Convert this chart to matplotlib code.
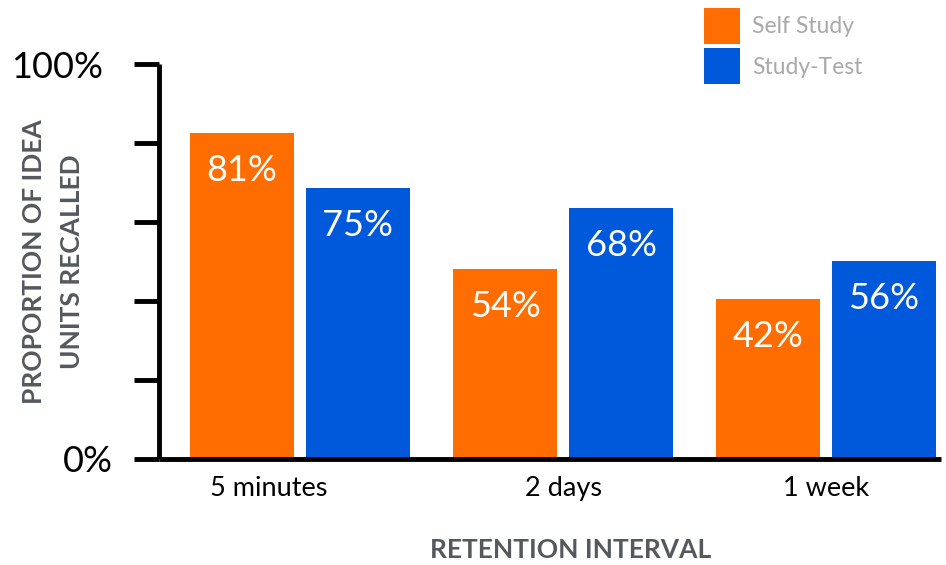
import numpy as np
import matplotlib
matplotlib.use("Agg")
import matplotlib.pyplot as plt
import matplotlib.transforms as mtransforms

plt.rcParams['font.family'] = ['Lato', 'DejaVu Sans']

# data
categories = ['5 minutes', '2 days', '1 week']
self_study = [82.5, 48.1, 40.5]
study_test = [68.6, 63.5, 50.1]
self_study_labels = ['81%', '54%', '42%']
study_test_labels = ['75%', '68%', '56%']
y_ticks = [0, 20, 40, 60, 80, 100]
y_tick_labels = ['0%', '', '', '', '', '100%']

ORANGE = '#FF6D00'
BLUE = '#0058DB'
GREY = '#55595E'

fig = plt.figure(figsize=(9.46, 5.65), dpi=100)
ax = fig.add_axes([159/946, 1 - 459/565, 782/946, 395/565])

x = np.arange(len(categories))
w = 0.395
off = 0.2205
b1 = ax.bar(x - off, self_study, w, color=ORANGE, label='Self Study')
b2 = ax.bar(x + off, study_test, w, color=BLUE, label='Study-Test')

for bars, labels in ((b1, self_study_labels), (b2, study_test_labels)):
    for rect, txt in zip(bars, labels):
        ax.annotate(txt, (rect.get_x() + rect.get_width() / 2, rect.get_height()),
                    xytext=(0, -27), textcoords='offset points',
                    ha='center', va='center', color='white', fontsize=26)

ax.set_xlim(-0.536, 2.437)
ax.set_ylim(0, 100)

for side in ('top', 'right'):
    ax.spines[side].set_visible(False)
for side in ('left', 'bottom'):
    ax.spines[side].set_linewidth(3.5)
    ax.spines[side].set_capstyle('butt')

ax.set_yticks(y_ticks)
ax.set_yticklabels(y_tick_labels, fontsize=26)
ax.tick_params(axis='y', length=18, width=3.5, pad=15, colors='black')
ax.set_xticks(x)
ax.set_xticklabels(categories, fontsize=19.5)
ax.tick_params(axis='x', length=0, pad=12)

# the first category label and the top tick label sit a bit off in the original
lab0 = ax.get_xticklabels()[0]
lab0.set_transform(lab0.get_transform() + mtransforms.ScaledTranslation(-31/100, 0, fig.dpi_scale_trans))
top = ax.get_yticklabels()[-1]
top.set_transform(top.get_transform() + mtransforms.ScaledTranslation(-10/100, 0, fig.dpi_scale_trans))

fig.text(53/946, 1 - 262/565, 'PROPORTION OF IDEA\nUNITS RECALLED', rotation=90,
         ha='center', va='center', multialignment='center', fontsize=19,
         fontweight='bold', color=GREY, linespacing=1.75)
fig.text(571/946, 1 - 550/565, 'RETENTION INTERVAL', ha='center', va='center',
         fontsize=19, fontweight='bold', color=GREY)

fs = 16.5
px = fs * 100 / 72
leg = fig.legend(handles=[b1, b2], loc='upper left', bbox_to_anchor=(704/946, 1 - 8/565),
                 frameon=False, fontsize=fs, borderpad=0, borderaxespad=0,
                 handlelength=36/px, handleheight=46.5/px, handletextpad=12/px,
                 labelspacing=4.5/px)
for t in leg.get_texts():
    t.set_color('#A9A9A9')

fig.savefig('out.png', dpi=100)
